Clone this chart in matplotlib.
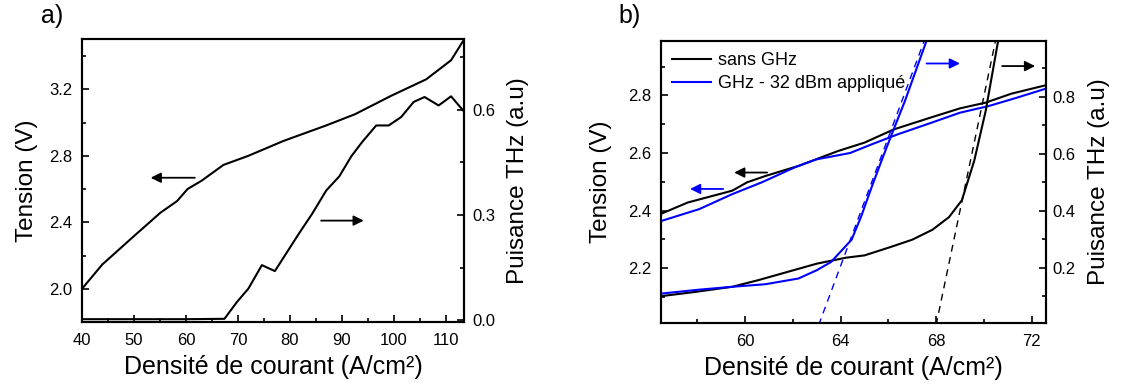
import matplotlib.pyplot as plt
from matplotlib.ticker import MultipleLocator

plt.rcParams['font.family'] = ['Liberation Sans', 'DejaVu Sans']

# panel a) - tension and THz power vs current density
a_j_v = [40, 43.9, 50, 55.1, 58.3, 60.3, 63, 67.2, 72, 78.8, 87, 92.5, 99.4, 106.2, 111, 113.5]
a_v = [2.0, 2.146, 2.317, 2.458, 2.528, 2.6, 2.65, 2.745, 2.8, 2.89, 2.983, 3.05, 3.16, 3.26, 3.375, 3.5]
a_j_p = [40, 50, 60, 67.4, 69.8, 72, 74.6, 77.1, 81.6, 84.3, 87, 89.5, 91.8, 93.9, 96.6,
         99, 101.4, 103.8, 105.9, 108.6, 111, 113.3]
a_p = [0.003, 0.003, 0.003, 0.004, 0.052, 0.09, 0.157, 0.14, 0.244, 0.304, 0.37, 0.41, 0.467,
       0.508, 0.555, 0.555, 0.579, 0.622, 0.636, 0.612, 0.638, 0.598]

# panel b) - zoom around threshold, with and without GHz
b_j = [56.46, 57.6, 59.46, 60.08, 60.85, 62.23, 63.9, 65.0, 66.23, 67.77, 69.0, 70.08, 71.15, 72.58]
b_v_sans = [2.388, 2.428, 2.469, 2.498, 2.52, 2.555, 2.607, 2.636, 2.682, 2.723, 2.755, 2.775, 2.806, 2.835]
b_j_ghz = [56.46, 58.08, 59.46, 60.7, 62.08, 63.0, 64.4, 65.3, 66.4, 67.8, 69.0, 70.2, 71.3, 72.58]
b_v_ghz = [2.363, 2.405, 2.457, 2.498, 2.55, 2.578, 2.6, 2.63, 2.665, 2.705, 2.74, 2.763, 2.79, 2.823]

b_jp_sans = [56.46, 57.9, 59.46, 60.54, 61.77, 63.0, 64.23, 65.0, 66.08, 67.0, 67.85, 68.54, 69.08, 69.6, 70.08, 70.6]
b_p_sans = [0.101, 0.116, 0.134, 0.157, 0.186, 0.215, 0.236, 0.244, 0.273, 0.299, 0.334, 0.378, 0.437, 0.576, 0.751, 0.996]
b_jp_ghz = [56.46, 58.08, 59.46, 60.85, 62.23, 63.0, 63.6, 64.46, 64.85, 65.3, 65.77, 66.23, 66.7, 67.15, 67.6]
b_p_ghz = [0.110, 0.124, 0.134, 0.143, 0.163, 0.192, 0.221, 0.299, 0.378, 0.483, 0.588, 0.687, 0.786, 0.891, 0.996]

# threshold extrapolation lines
fit_sans_j = [68.0, 70.5]
fit_sans_p = [0.0, 1.0]
fit_ghz_j = [63.08, 67.5]
fit_ghz_p = [0.0, 0.995]

BLUE = "#0000ff"
LW = 1.5


def style(ax, ypad):
    ax.tick_params(which="both", direction="in", labelsize=12, width=1.2)
    ax.tick_params(which="major", length=5)
    ax.tick_params(which="minor", length=3)
    ax.tick_params(axis="x", pad=8)
    ax.tick_params(axis="y", pad=ypad)
    for s in ax.spines.values():
        s.set_linewidth(1.5)


def arrow(ax, x0, x1, y, color):
    ax.annotate("", xy=(x1, y), xytext=(x0, y),
                arrowprops=dict(arrowstyle="-|>", color=color, lw=1.3,
                                mutation_scale=15, shrinkA=0, shrinkB=0))


fig = plt.figure(figsize=(11.33, 3.87), dpi=100)

# ---- panel a
ax = fig.add_axes([0.0724, 0.168, 0.3372, 0.730])
ax2 = ax.twinx()
ax.plot(a_j_v, a_v, color="black", lw=LW)
ax2.plot(a_j_p, a_p, color="black", lw=LW)
ax.set_xlim(40, 113.5)
ax.set_ylim(1.8, 3.5)
ax2.set_ylim(-0.005, 0.8)
ax.xaxis.set_major_locator(MultipleLocator(10))
ax.xaxis.set_minor_locator(MultipleLocator(5))
ax.yaxis.set_major_locator(MultipleLocator(0.4))
ax.yaxis.set_minor_locator(MultipleLocator(0.2))
ax2.yaxis.set_major_locator(MultipleLocator(0.3))
ax2.yaxis.set_minor_locator(MultipleLocator(0.15))
ax.set_yticks([2.0, 2.4, 2.8, 3.2])
style(ax, 7)
style(ax2, 6)
ax.set_xlabel("Densité de courant (A/cm²)", fontsize=18, labelpad=5)
ax.set_ylabel("Tension (V)", fontsize=17.5, labelpad=8)
ax2.set_ylabel("Puisance THz (a.u)", fontsize=17.5, labelpad=8)
arrow(ax, 61.7, 53.2, 2.668, "black")
arrow(ax, 86.0, 94.2, 2.41, "black")
fig.text(0.036, 0.958, "a)", fontsize=18, ha="left", va="center")

# ---- panel b
bx = fig.add_axes([0.5831, 0.166, 0.340, 0.7287])
bx2 = bx.twinx()
l1, = bx.plot(b_j, b_v_sans, color="black", lw=LW, label="sans GHz")
l2, = bx.plot(b_j_ghz, b_v_ghz, color=BLUE, lw=LW, label="GHz - 32 dBm appliqué")
bx2.plot(b_jp_sans, b_p_sans, color="black", lw=LW)
bx2.plot(b_jp_ghz, b_p_ghz, color=BLUE, lw=LW)
bx2.plot(fit_sans_j, fit_sans_p, color="black", lw=1.0, ls=(0, (5, 4)))
bx2.plot(fit_ghz_j, fit_ghz_p, color=BLUE, lw=1.0, ls=(0, (5, 4)))
bx.set_xlim(56.46, 72.6)
bx.set_ylim(2.01, 2.99)
bx2.set_ylim(0.008, 0.996)
bx.xaxis.set_major_locator(MultipleLocator(4))
bx.xaxis.set_minor_locator(MultipleLocator(2))
bx.yaxis.set_major_locator(MultipleLocator(0.2))
bx.yaxis.set_minor_locator(MultipleLocator(0.1))
bx2.yaxis.set_major_locator(MultipleLocator(0.2))
bx2.yaxis.set_minor_locator(MultipleLocator(0.1))
style(bx, 7)
style(bx2, 5)
bx.set_xlabel("Densité de courant (A/cm²)", fontsize=18, labelpad=5)
bx.set_ylabel("Tension (V)", fontsize=17.5, labelpad=11)
bx2.set_ylabel("Puisance THz (a.u)", fontsize=17.5, labelpad=9)
arrow(bx, 60.92, 59.54, 2.532, "black")
arrow(bx, 59.08, 57.69, 2.475, BLUE)
arrow(bx, 67.6, 69.0, 2.911, BLUE)
arrow(bx, 70.77, 72.15, 2.902, "black")
bx.legend(handles=[l1, l2], loc="upper left", frameon=False, fontsize=13,
          handlelength=2.15, borderaxespad=0.25, labelspacing=0.3, handletextpad=0.4)
fig.text(0.546, 0.958, "b)", fontsize=18, ha="left", va="center")

fig.savefig("out.png", dpi=100)
